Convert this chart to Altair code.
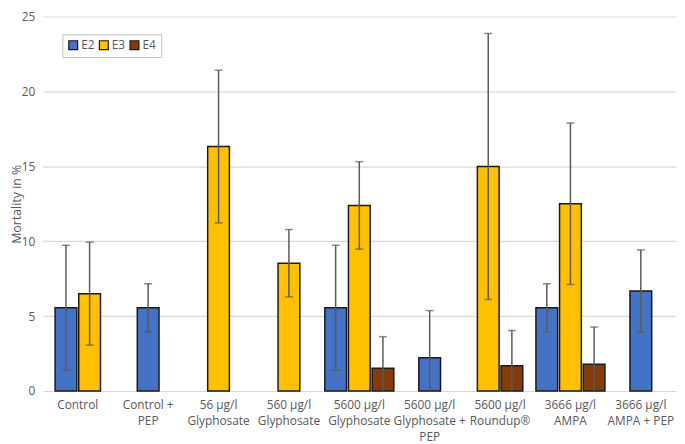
import altair as alt
import pandas as pd

categories = [
    "Control",
    "Control +|PEP",
    "56 µg/l|Glyphosate",
    "560 µg/l|Glyphosate",
    "5600 µg/l|Glyphosate",
    "5600 µg/l|Glyphosate +|PEP",
    "5600 µg/l|Roundup®",
    "3666 µg/l|AMPA",
    "3666 µg/l|AMPA + PEP",
]
series = ["E2", "E3", "E4"]
colors = ["#4472C4", "#FFC000", "#843C0C"]

e2_mean = [5.56, 5.56, None, None, 5.56, 2.22, None, 5.56, 6.67]
e2_err = [4.17, 1.60, None, None, 4.17, 3.15, None, 1.60, 2.75]
e3_mean = [6.50, None, 16.32, 8.53, 12.39, None, 14.99, 12.50, None]
e3_err = [3.44, None, 5.10, 2.25, 2.92, None, 8.88, 5.39, None]
e4_mean = [None, None, None, None, 1.52, None, 1.68, 1.78, None]
e4_err = [None, None, None, None, 2.11, None, 2.36, 2.49, None]

means = {"E2": e2_mean, "E3": e3_mean, "E4": e4_mean}
errs = {"E2": e2_err, "E3": e3_err, "E4": e4_err}

rows = []
for i, cat in enumerate(categories):
    present = [s for s in series if means[s][i] is not None]
    slots = {1: [2], 2: [1, 3], 3: [0, 2, 4]}[len(present)]
    for s, slot in zip(present, slots):
        m = means[s][i]
        e = errs[s][i]
        rows.append(dict(cat=cat, series=s, slot=slot, mean=m,
                         upper=m + e, lower=max(m - e, 0.0),
                         lowcap=(m - e) >= 0))
df = pd.DataFrame(rows)

FONT = "Open Sans"
GREY = "#595959"
H = 379

x = alt.X("cat:N", scale=alt.Scale(domain=categories, paddingInner=0.16, paddingOuter=0.08),
          axis=alt.Axis(title=None, labelExpr="split(datum.label, '|')", labelAngle=0,
                        labelOverlap=False, labelLimit=300, labelBound=False,
                        domain=False, ticks=False, labelPadding=9, labelLineHeight=16,
                        labelFontSize=12, labelColor=GREY, labelFont=FONT,
                        labelBaseline="top"))
xo = alt.XOffset("slot:O", scale=alt.Scale(domain=[0, 1, 2, 3, 4], paddingInner=0, paddingOuter=0))
yscale = alt.Scale(domain=[0, 25], nice=False)
yaxis = alt.Axis(values=[0, 5, 10, 15, 20, 25], title="Mortality in %",
                 grid=True, gridColor="#d9d9d9", gridWidth=1.2,
                 domain=False, ticks=False, labelPadding=8,
                 labelFontSize=12, labelColor=GREY, labelFont=FONT,
                 titleFontSize=12.5, titleColor=GREY, titleFont=FONT,
                 titleFontWeight="normal", titleAngle=-90,
                 titleX=-32, titleY=H / 2, titleBaseline="top",
                 titleAlign="center")

base = alt.Chart(df)

bars = base.mark_bar(width=22, stroke="#1a1a1a", strokeWidth=1.5).encode(
    x=x, xOffset=xo,
    y=alt.Y("mean:Q", scale=yscale, axis=yaxis, title="Mortality in %"),
    color=alt.Color("series:N", scale=alt.Scale(domain=series, range=colors),
                    legend=alt.Legend(title=None, orient="none", legendX=20, legendY=18,
                                      direction="horizontal", symbolType="square",
                                      symbolSize=81, symbolStrokeColor="#1a1a1a",
                                      symbolStrokeWidth=1.2, labelFontSize=12,
                                      labelColor=GREY, labelFont=FONT,
                                      strokeColor="#bfbfbf", padding=5,
                                      columnPadding=2, labelOffset=2,
                                      fillColor="white")),
)

rules = base.mark_rule(color=GREY, strokeWidth=1.5).encode(
    x=x, xOffset=xo,
    y=alt.Y("lower:Q", scale=yscale, axis=yaxis, title="Mortality in %"),
    y2="upper:Q",
)

upcaps = base.mark_tick(color=GREY, thickness=1.5, size=8).encode(
    x=x, xOffset=xo, y=alt.Y("upper:Q", scale=yscale, axis=yaxis, title="Mortality in %"),
)

lowcaps = base.transform_filter("datum.lowcap").mark_tick(color=GREY, thickness=1.5, size=8).encode(
    x=x, xOffset=xo, y=alt.Y("lower:Q", scale=yscale, axis=yaxis, title="Mortality in %"),
)

chart = alt.layer(bars, rules, upcaps, lowcaps).properties(
    width=641, height=H,
    autosize=alt.AutoSizeParams(type="none"),
    padding={"left": 35, "top": 6, "right": 1, "bottom": 51},
    background="white",
).configure_view(stroke=None)

chart.save("out.html", embed_options={"renderer": "svg", "actions": False})
